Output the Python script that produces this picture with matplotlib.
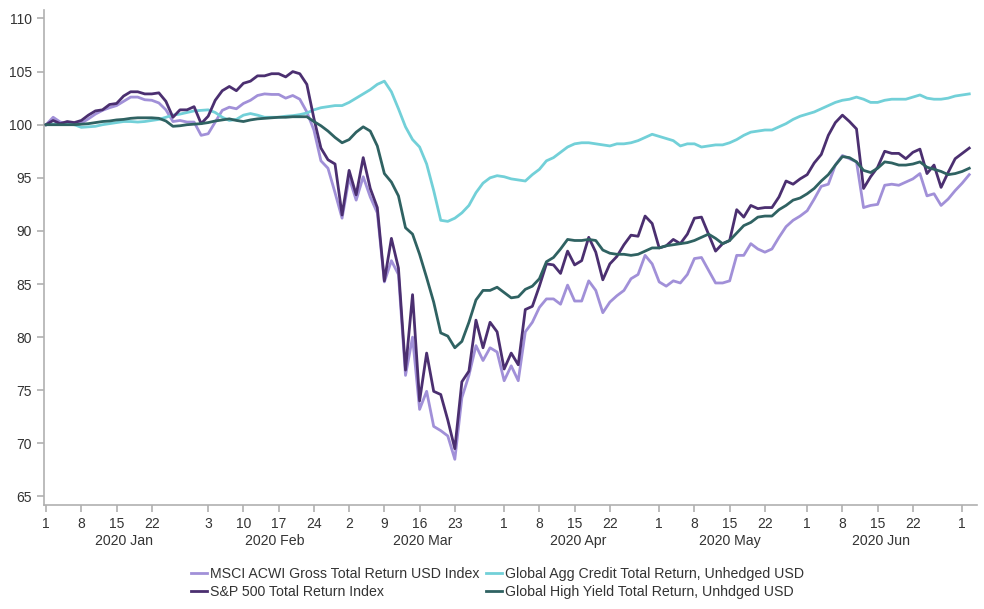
import matplotlib
matplotlib.use("Agg")
import matplotlib.pyplot as plt
import matplotlib.transforms as mtransforms
import pandas as pd

plt.rcParams['font.family'] = ['Liberation Sans', 'DejaVu Sans']

# trading days on the x axis
dates = pd.bdate_range('2020-01-01', '2020-07-02')

msci = [100.0, 100.7, 100.25, 100.1, 100.15, 100.15, 100.55, 101.0, 101.35, 101.6,
        101.8, 102.2, 102.6, 102.6, 102.35, 102.3, 102.05, 101.4, 100.3, 100.4,
        100.25, 100.25, 99.0, 99.15, 100.25, 101.35, 101.65, 101.5, 102.0, 102.3,
        102.75, 102.9, 102.85, 102.85, 102.5, 102.75, 102.4, 101.2, 99.5, 96.6,
        95.9, 93.6, 91.2, 95.0, 92.9, 95.1, 93.2, 91.7, 85.2, 87.2,
        85.9, 76.4, 80.0, 73.2, 74.9, 71.6, 71.2, 70.7, 68.5, 74.3,
        76.4, 79.2, 77.8, 79.0, 78.6, 75.9, 77.3, 75.9, 80.5, 81.4,
        82.8, 83.6, 83.6, 83.1, 84.9, 83.4, 83.4, 85.3, 84.4, 82.3,
        83.3, 83.9, 84.4, 85.5, 85.9, 87.7, 86.9, 85.2, 84.8, 85.3,
        85.1, 85.9, 87.4, 87.5, 86.3, 85.1, 85.1, 85.3, 87.7, 87.7,
        88.8, 88.3, 88.0, 88.3, 89.4, 90.4, 91.0, 91.4, 91.9, 93.0,
        94.2, 94.4, 96.2, 97.1, 96.8, 96.5, 92.2, 92.4, 92.5, 94.3,
        94.4, 94.3, 94.6, 94.9, 95.4, 93.3, 93.5, 92.4, 93.0, 93.8,
        94.5, 95.3]

spx = [100.0, 100.4, 100.1, 100.3, 100.2, 100.4, 100.9, 101.3, 101.4, 101.9,
       102.0, 102.7, 103.1, 103.1, 102.9, 102.9, 103.0, 102.2, 100.7, 101.4,
       101.4, 101.7, 100.1, 100.8, 102.3, 103.2, 103.6, 103.2, 103.9, 104.1,
       104.6, 104.6, 104.8, 104.8, 104.5, 105.0, 104.8, 103.8, 100.6, 97.8,
       96.7, 96.3, 91.5, 95.7, 93.4, 96.9, 94.0, 92.2, 85.3, 89.3,
       86.5, 76.9, 84.0, 74.0, 78.5, 74.9, 74.6, 72.2, 69.5, 75.8,
       76.8, 81.6, 79.0, 81.4, 80.5, 77.0, 78.5, 77.4, 82.6, 82.9,
       84.8, 86.9, 86.8, 86.0, 88.1, 86.8, 87.2, 89.4, 88.0, 85.4,
       86.9, 87.6, 88.7, 89.6, 89.5, 91.4, 90.7, 88.4, 88.6, 89.2,
       88.8, 89.7, 91.2, 91.3, 89.7, 88.1, 88.8, 89.1, 92.0, 91.3,
       92.4, 92.1, 92.2, 92.2, 93.2, 94.7, 94.4, 94.9, 95.3, 96.4,
       97.2, 99.0, 100.2, 100.9, 100.3, 99.6, 94.0, 95.1, 96.0, 97.5,
       97.3, 97.3, 96.8, 97.4, 97.7, 95.4, 96.2, 94.1, 95.5, 96.8,
       97.3, 97.8]

agg_credit = [100.0, 100.05, 100.1, 100.05, 100.0, 99.75, 99.8, 99.85, 100.0, 100.1,
              100.2, 100.3, 100.3, 100.25, 100.3, 100.4, 100.5, 100.7, 100.9, 101.0,
              101.15, 101.3, 101.35, 101.4, 101.15, 100.7, 100.4, 100.5, 100.9, 101.05,
              100.9, 100.7, 100.7, 100.7, 100.8, 100.85, 100.95, 101.1, 101.4, 101.6,
              101.7, 101.8, 101.8, 102.1, 102.5, 102.9, 103.3, 103.8, 104.1, 103.1,
              101.5, 99.8, 98.6, 97.9, 96.3, 93.8, 91.0, 90.9, 91.2, 91.7,
              92.4, 93.6, 94.5, 95.0, 95.2, 95.1, 94.9, 94.8, 94.7, 95.3,
              95.8, 96.6, 96.9, 97.4, 97.9, 98.2, 98.3, 98.3, 98.2, 98.1,
              98.0, 98.2, 98.2, 98.3, 98.5, 98.8, 99.1, 98.9, 98.7, 98.5,
              98.0, 98.2, 98.2, 97.9, 98.0, 98.1, 98.1, 98.3, 98.6, 99.0,
              99.3, 99.4, 99.5, 99.5, 99.8, 100.1, 100.5, 100.8, 101.0, 101.2,
              101.5, 101.8, 102.1, 102.3, 102.4, 102.6, 102.4, 102.1, 102.1, 102.3,
              102.4, 102.4, 102.4, 102.6, 102.8, 102.5, 102.4, 102.4, 102.5, 102.7,
              102.8, 102.9]

high_yield = [100.0, 100.0, 100.0, 100.0, 100.0, 100.05, 100.1, 100.2, 100.3, 100.35,
              100.45, 100.5, 100.6, 100.65, 100.65, 100.65, 100.6, 100.35, 99.85, 99.9,
              100.0, 100.05, 100.1, 100.2, 100.35, 100.45, 100.55, 100.4, 100.3, 100.45,
              100.55, 100.6, 100.65, 100.7, 100.7, 100.75, 100.75, 100.75, 100.3, 99.9,
              99.4, 98.8, 98.3, 98.6, 99.3, 99.8, 99.4, 98.0, 95.4, 94.6,
              93.3, 90.3, 89.7, 87.8, 85.6, 83.3, 80.4, 80.1, 79.0, 79.6,
              81.4, 83.5, 84.4, 84.4, 84.7, 84.2, 83.7, 83.8, 84.5, 84.8,
              85.5, 87.1, 87.5, 88.3, 89.2, 89.1, 89.1, 89.2, 89.1, 88.2,
              87.9, 87.8, 87.8, 87.7, 87.8, 88.1, 88.4, 88.4, 88.6, 88.7,
              88.8, 88.9, 89.1, 89.4, 89.7, 89.3, 88.8, 89.1, 89.8, 90.5,
              90.8, 91.3, 91.4, 91.4, 92.0, 92.4, 92.9, 93.1, 93.5, 94.0,
              94.7, 95.3, 96.2, 97.0, 96.9, 96.5, 95.7, 95.5, 95.9, 96.5,
              96.4, 96.2, 96.2, 96.3, 96.5, 96.0, 95.8, 95.6, 95.3, 95.4,
              95.6, 95.9]

tick_dates = ['2020-01-01', '2020-01-08', '2020-01-15', '2020-01-22',
              '2020-02-03', '2020-02-10', '2020-02-17', '2020-02-24',
              '2020-03-02', '2020-03-09', '2020-03-16', '2020-03-23',
              '2020-04-01', '2020-04-08', '2020-04-15', '2020-04-22',
              '2020-05-01', '2020-05-08', '2020-05-15', '2020-05-22',
              '2020-06-01', '2020-06-08', '2020-06-15', '2020-06-22',
              '2020-07-01']
months = ['2020-01', '2020-02', '2020-03', '2020-04', '2020-05', '2020-06']
month_labels = ['2020 Jan', '2020 Feb', '2020 Mar', '2020 Apr', '2020 May', '2020 Jun']

labels = ['MSCI ACWI Gross Total Return USD Index',
          'S&P 500 Total Return Index',
          'Global Agg Credit Total Return, Unhedged USD',
          'Global High Yield Total Return, Unhdged USD']
colors = ['#a190d8', '#4b2f70', '#72d0d8', '#2f6262']

x = list(range(len(dates)))

fig = plt.figure(figsize=(9.84, 6.09), dpi=100)
ax = fig.add_axes([0.0447, 0.1708, 0.9482, 0.8128])

h_msci, = ax.plot(x, msci, color=colors[0], lw=2.0, label=labels[0], zorder=2)
h_agg, = ax.plot(x, agg_credit, color=colors[2], lw=2.0, label=labels[2], zorder=2)
h_spx, = ax.plot(x, spx, color=colors[1], lw=2.0, label=labels[1], zorder=3)
h_hy, = ax.plot(x, high_yield, color=colors[3], lw=2.0, label=labels[3], zorder=3)

ax.set_xlim(-0.3, 132.1)
ax.set_ylim(64.2, 110.8)
ax.set_yticks(range(65, 111, 5))

pos = [dates.get_loc(pd.Timestamp(d)) for d in tick_dates]
ax.set_xticks(pos)
ax.set_xticklabels([str(pd.Timestamp(d).day) for d in tick_dates])

for sp in ['top', 'right']:
    ax.spines[sp].set_visible(False)
for sp in ['left', 'bottom']:
    ax.spines[sp].set_color('#b0b0b0')
    ax.spines[sp].set_linewidth(1.2)
ax.tick_params(axis='both', colors='#b0b0b0', labelcolor='#333333',
               labelsize=10, length=5, width=1.2)
ax.tick_params(axis='x', pad=3.5)

# month captions under the day numbers
trans = mtransforms.blended_transform_factory(ax.transData, ax.transAxes)
for m, lab in zip(months, month_labels):
    idx = [i for i, d in enumerate(dates) if d.strftime('%Y-%m') == m]
    ax.text((idx[0] + idx[-1]) / 2, -0.072, lab, transform=trans,
            ha='center', va='center', fontsize=10.2, color='#333333')

fig.legend(handles=[h_msci, h_spx, h_agg, h_hy], labels=labels, ncol=2,
           loc='center', bbox_to_anchor=(0.5056, 0.043), frameon=False,
           fontsize=10.2, handlelength=1.1, handletextpad=0.2,
           columnspacing=0.5, labelspacing=0.3, labelcolor='#333333')

fig.savefig('out.png', dpi=100)
